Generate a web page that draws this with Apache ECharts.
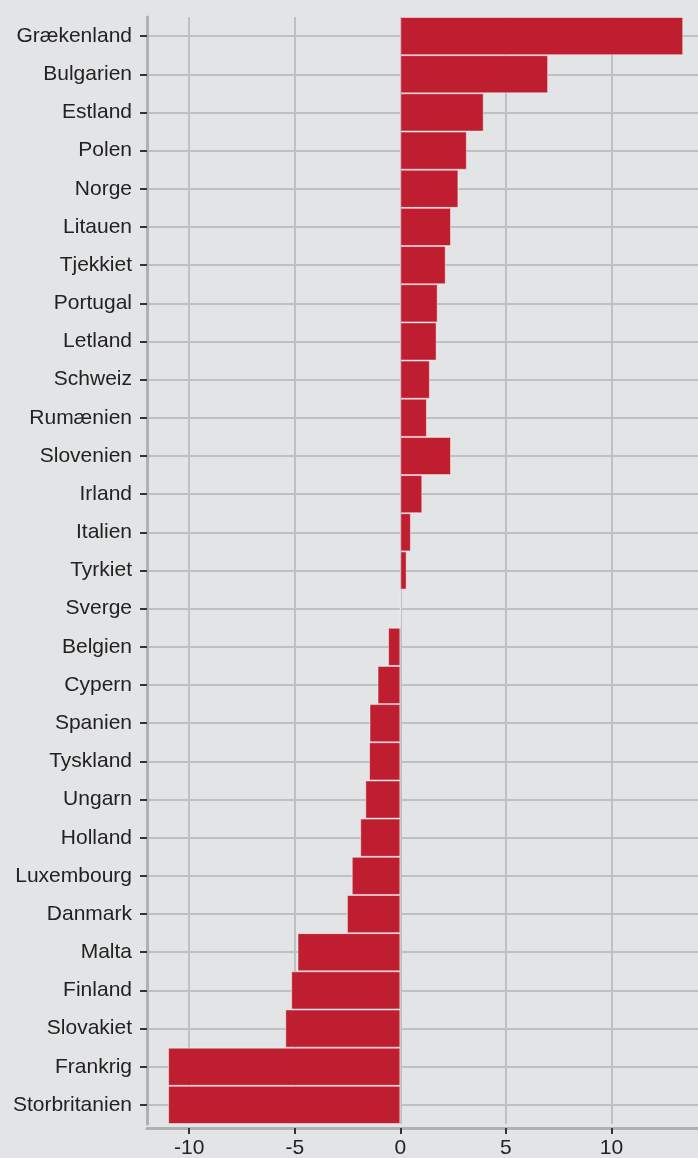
<!DOCTYPE html>
<html>
<head>
<meta charset="utf-8">
<script src="https://cdn.jsdelivr.net/npm/echarts@6/dist/echarts.min.js"></script>
<style>
  html, body { margin: 0; padding: 0; background: #e3e4e6; }
  #chart { width: 698px; height: 1158px; }
</style>
</head>
<body>
<div id="chart"></div>
<script>
// lande, øverst til nederst
const countries = [
    'Grækenland', 'Bulgarien', 'Estland', 'Polen', 'Norge', 'Litauen', 'Tjekkiet',
    'Portugal', 'Letland', 'Schweiz', 'Rumænien', 'Slovenien', 'Irland', 'Italien',
    'Tyrkiet', 'Sverge', 'Belgien', 'Cypern', 'Spanien', 'Tyskland', 'Ungarn',
    'Holland', 'Luxembourg', 'Danmark', 'Malta', 'Finland', 'Slovakiet', 'Frankrig',
    'Storbritanien'
];

const values = [
    13.4, 7.0, 3.95, 3.15, 2.75, 2.4, 2.15,
    1.77, 1.72, 1.4, 1.26, 2.4, 1.04, 0.5,
    0.3, 0, -0.58, -1.08, -1.46, -1.48, -1.66,
    -1.9, -2.3, -2.53, -4.87, -5.17, -5.45, -11.0,
    -11.0
];

const xTicks = [-10, -5, 0, 5, 10];

const chart = echarts.init(document.getElementById('chart'));

const axisColor = '#b0b1b3';
const textColor = '#222';
const tickStyle = { color: '#333', width: 2 };

chart.setOption({
    backgroundColor: '#e3e4e6',
    animation: false,
    grid: { left: 147, right: 0, top: 17, bottom: 34, containLabel: false, outerBoundsMode: 'none' },
    xAxis: [{
        type: 'value',
        min: -12,
        max: 14.1,
        offset: 4,
        axisLine: { show: true, lineStyle: { color: axisColor, width: 3 } },
        axisTick: { show: true, customValues: xTicks, length: 6, lineStyle: tickStyle },
        axisLabel: {
            customValues: xTicks,
            margin: 12,
            lineHeight: 16,
            color: textColor,
            fontSize: 21,
            fontFamily: 'Liberation Sans'
        },
        splitLine: { show: true, lineStyle: { color: '#bfc0c2', width: 2 } }
    }],
    yAxis: {
        type: 'category',
        data: countries,
        inverse: true,
        axisLine: { show: true, onZero: false, lineStyle: { color: axisColor, width: 3 } },
        axisTick: { show: true, alignWithLabel: true, length: 7, lineStyle: tickStyle },
        axisLabel: {
            margin: 15,
            color: textColor,
            fontSize: 21,
            fontFamily: 'Liberation Sans',
            interval: 0
        },
        splitLine: { show: true, alignWithLabel: true, lineStyle: { color: '#bfc0c2', width: 2 } }
    },
    series: [{
        type: 'bar',
        data: values,
        barWidth: '100%',
        itemStyle: {
            color: '#be1e30',
            borderColor: 'rgba(255,255,255,0.45)',
            borderWidth: 1
        }
    }]
});
</script>
</body>
</html>
